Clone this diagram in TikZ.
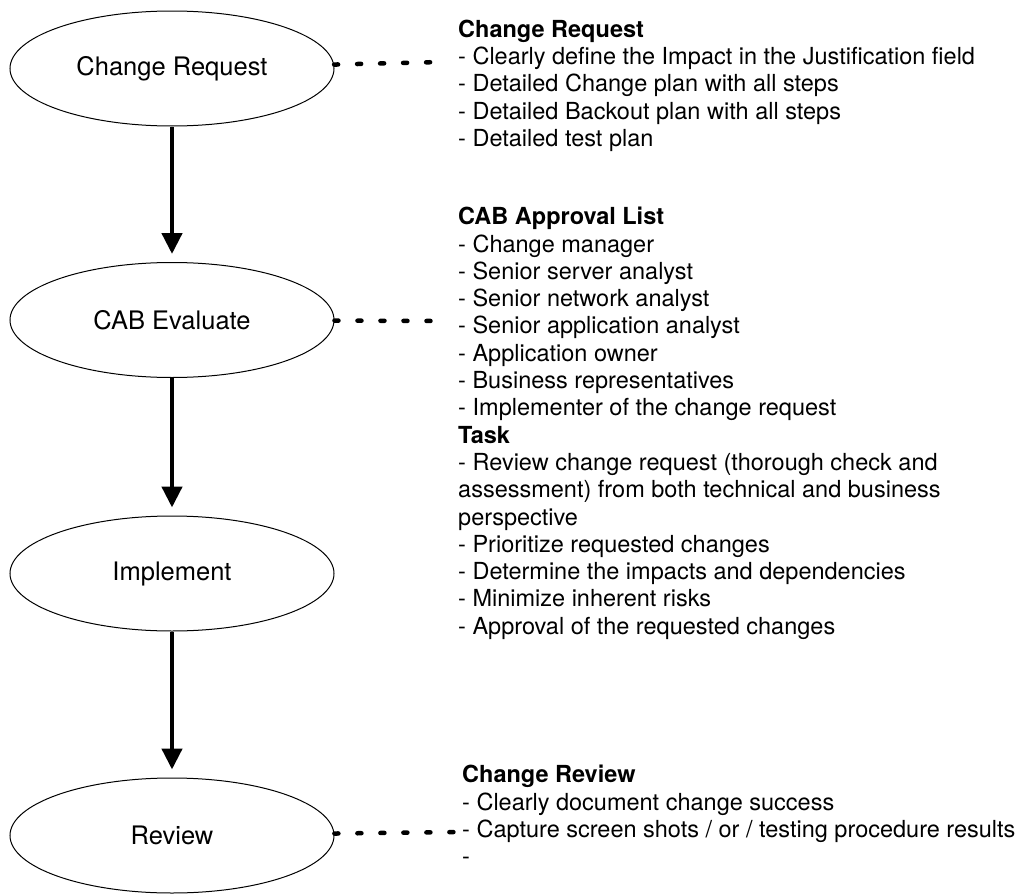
\documentclass[tikz,border=0pt]{standalone}
\usepackage{fontspec}
\setmainfont{TeX Gyre Heros}
\usetikzlibrary{shapes.geometric,arrows.meta}
\begin{document}
\begin{tikzpicture}[x=1pt,y=-1pt,
  stage/.style={ellipse,draw,line width=1pt,minimum width=324pt,minimum height=115pt,inner sep=0pt,font=\fontsize{25.5}{30}\selectfont},
  flow/.style={line width=4.5pt,-{Triangle[width=20pt,length=21pt]},shorten >=8pt},
  link/.style={line width=4.5pt,line cap=round,dash pattern=on 4pt off 19pt},
  notes/.style={anchor=north west,inner sep=0pt,align=left,font=\fontsize{23.5}{27.3}\selectfont}]
\useasboundingbox (0,0) rectangle (1021,894);
\node[stage] (cr) at (172,68.5) {Change Request};
\node[stage] (cab) at (172,320) {CAB Evaluate};
\node[stage] (imp) at (172,573.5) {Implement};
\node[stage] (rev) at (172,835.5) {Review};
\draw[flow] (cr.south) -- (cab.north);
\draw[flow] (cab.south) -- (imp.north);
\draw[flow] (imp.south) -- (rev.north);
\node[notes] (n1) at (458,19.5) {\textbf{Change Request}\\
- Clearly define the Impact in the Justification field\\
- Detailed Change plan with all steps\\
- Detailed Backout plan with all steps\\
- Detailed test plan};
\node[notes] (n2) at (458,207) {\textbf{CAB Approval List}\\
- Change manager\\
- Senior server analyst\\
- Senior network analyst\\
- Senior application analyst\\
- Application owner\\
- Business representatives\\
- Implementer of the change request\\
\textbf{Task}\\
- Review change request (thorough check and\\
assessment) from both technical and business\\
perspective\\
- Prioritize requested changes\\
- Determine the impacts and dependencies\\
- Minimize inherent risks\\
- Approval of the requested changes};
\node[notes] (n3) at (462,765) {\textbf{Change Review}\\
- Clearly document change success\\
- Capture screen shots / or / testing procedure results\\
-};
\coordinate (e1) at (440,62);
\coordinate (e2) at (440,321);
\coordinate (e4) at (460,832);
\draw[link] (cr) -- (e1);
\draw[link] (cab) -- (e2);
\draw[link] (rev) -- (e4);
\end{tikzpicture}
\end{document}
